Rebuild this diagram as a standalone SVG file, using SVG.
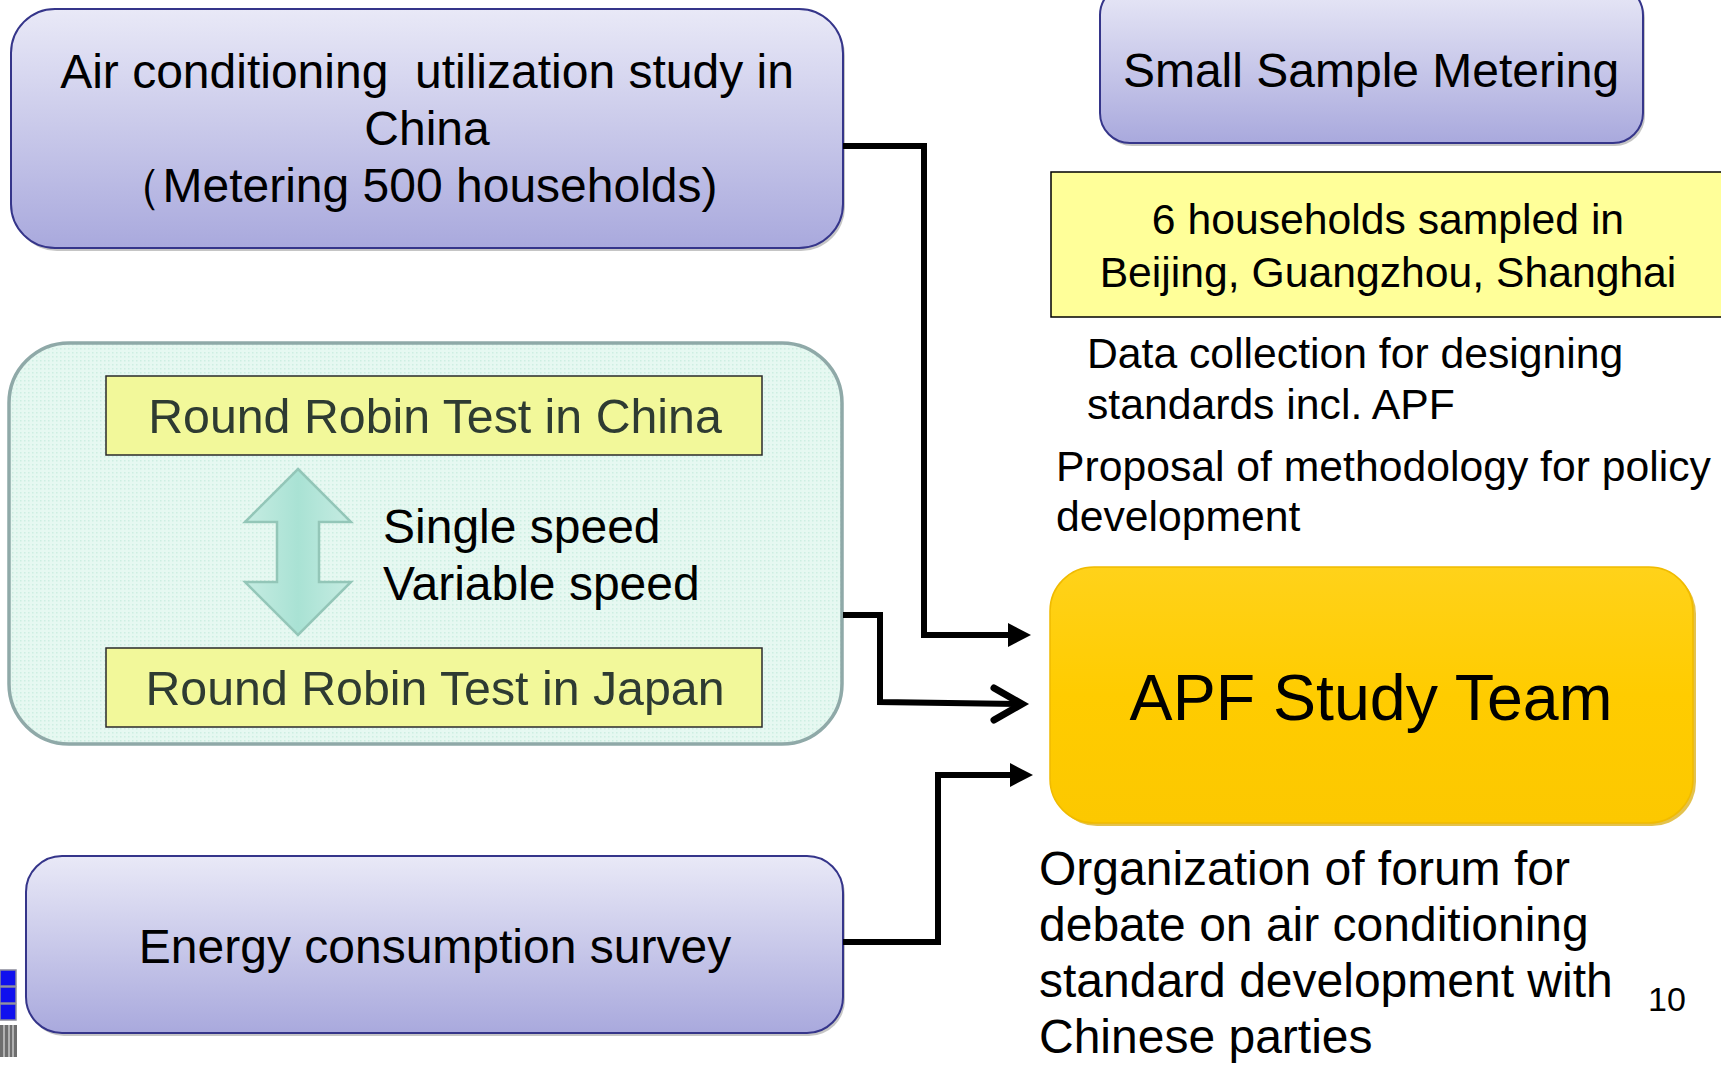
<svg xmlns="http://www.w3.org/2000/svg" width="1721" height="1065" viewBox="0 0 1721 1065">
<defs>
<linearGradient id="lav" x1="0" y1="0" x2="0" y2="1">
<stop offset="0" stop-color="#e9e9f7"/>
<stop offset="1" stop-color="#a9a9dd"/>
</linearGradient>
<linearGradient id="gold" x1="0" y1="0" x2="0" y2="1">
<stop offset="0" stop-color="#ffd21a"/>
<stop offset="0.5" stop-color="#ffcc00"/>
<stop offset="1" stop-color="#fcc800"/>
</linearGradient>
<pattern id="dots" width="4" height="4" patternUnits="userSpaceOnUse">
<rect width="4" height="4" fill="#e6f8f1"/>
<rect x="0" y="0" width="1.5" height="1.5" fill="#cdeee2"/>
</pattern>
<linearGradient id="arr" x1="0" y1="0" x2="1" y2="0">
<stop offset="0" stop-color="#c6ece2"/>
<stop offset="0.5" stop-color="#a9e2d4"/>
<stop offset="1" stop-color="#c6ece2"/>
</linearGradient>
</defs>
<style>
text{font-family:"Liberation Sans",Arial,sans-serif;fill:#000}
.lav{fill:url(#lav);stroke:#35358a;stroke-width:2}
.shadow{fill:#8c8c8c;opacity:0.5}
.t48{font-size:48px}
.t42{font-size:42.7px}
.c{text-anchor:middle}
.inner{fill:#f2f89a;stroke:#2a2a2a;stroke-width:1.5}
.rr{font-size:48.3px;fill:#2e3b32}
.conn{fill:none;stroke:#000;stroke-width:6;stroke-linejoin:miter}
</style>

<g id="node-ac-study">
<rect class="shadow" x="13" y="12" width="832" height="239" rx="44"/>
<rect class="lav" x="11" y="9" width="832" height="239" rx="44"/>
<text class="t48 c" x="427" y="88" xml:space="preserve">Air conditioning  utilization study in</text>
<text class="t48 c" x="427" y="145">China</text>
<text class="t48 c" x="416" y="202">（Metering 500 households)</text>
</g>

<g id="node-small-sample">
<rect class="shadow" x="1102" y="-12" width="543" height="158" rx="30"/>
<rect class="lav" x="1100" y="-15" width="543" height="158" rx="30"/>
<text class="t48 c" x="1371" y="87">Small Sample Metering</text>
</g>

<g id="node-households">
<rect x="1051" y="172" width="680" height="145" fill="#ffff99" stroke="#000" stroke-width="1.5"/>
<text class="t42 c" x="1388" y="234">6 households sampled in</text>
<text class="t42 c" x="1388" y="287">Beijing, Guangzhou, Shanghai</text>
</g>

<g id="note-data">
<text class="t42" x="1087" y="368">Data collection for designing</text>
<text class="t42" x="1087" y="419">standards incl. APF</text>
</g>

<g id="note-proposal">
<text class="t42" x="1056" y="481">Proposal of methodology for policy</text>
<text class="t42" x="1056" y="531">development</text>
</g>

<g id="node-round-robin">
<rect x="9" y="343" width="833" height="401" rx="60" fill="url(#dots)" stroke="#8fa9a8" stroke-width="3.5"/>
<rect class="inner" x="106" y="376" width="656" height="79"/>
<text class="rr c" x="435" y="433">Round Robin Test in China</text>
<rect class="inner" x="106" y="648" width="656" height="79"/>
<text class="rr c" x="435" y="705">Round Robin Test in Japan</text>
<path d="M298,469 L351,522 L319,522 L319,582 L351,582 L298,635 L245,582 L277,582 L277,522 L245,522 z" fill="url(#arr)" stroke="#93c6b8" stroke-width="2.5"/>
<text class="t48" x="383" y="543">Single speed</text>
<text class="t48" x="383" y="600">Variable speed</text>
</g>

<g id="node-energy">
<rect class="shadow" x="28" y="859" width="817" height="177" rx="36"/>
<rect class="lav" x="26" y="856" width="817" height="177" rx="36"/>
<text class="t48 c" x="435" y="963">Energy consumption survey</text>
</g>

<g id="node-apf">
<rect x="1053" y="570" width="643" height="256" rx="44" fill="#d9a800" opacity="0.7"/>
<rect x="1050" y="567" width="643" height="256" rx="44" fill="url(#gold)" stroke="#f0bb00" stroke-width="1.5"/>
<text class="c" x="1371" y="720" font-size="64.5">APF Study Team</text>
</g>

<g id="note-forum">
<text class="t48" x="1039" y="885">Organization of forum for</text>
<text class="t48" x="1039" y="941">debate on air conditioning</text>
<text class="t48" x="1039" y="997">standard development with</text>
<text class="t48" x="1039" y="1053">Chinese parties</text>
</g>

<text x="1648" y="1011" font-size="34">10</text>

<g id="logo-fragment">
<rect x="0" y="970" width="16" height="16" fill="#1010ee" stroke="#8a8a9a" stroke-width="1.5"/>
<rect x="0" y="987" width="16" height="16" fill="#1010ee" stroke="#8a8a9a" stroke-width="1.5"/>
<rect x="0" y="1004" width="16" height="16" fill="#1010ee" stroke="#8a8a9a" stroke-width="1.5"/>
<rect x="0" y="1025" width="17" height="32" fill="#6e6e6e"/>
<path d="M4,1025 V1057 M9,1025 V1057 M13,1025 V1057" stroke="#c8c8c8" stroke-width="1.5"/>
</g>

<g id="connectors">
<path class="conn" d="M843,146 H924 V635 H1010"/>
<path d="M1008,623 L1031,635 L1008,647 z" fill="#000"/>
<path class="conn" d="M843,615 H880 V702 L1020,704"/>
<path d="M994,688 L1022,704 L994,720" fill="none" stroke="#000" stroke-width="7" stroke-linecap="round" stroke-linejoin="miter"/>
<path class="conn" d="M843,942 H938 V775 H1012"/>
<path d="M1010,763 L1033,775 L1010,787 z" fill="#000"/>
</g>
</svg>
